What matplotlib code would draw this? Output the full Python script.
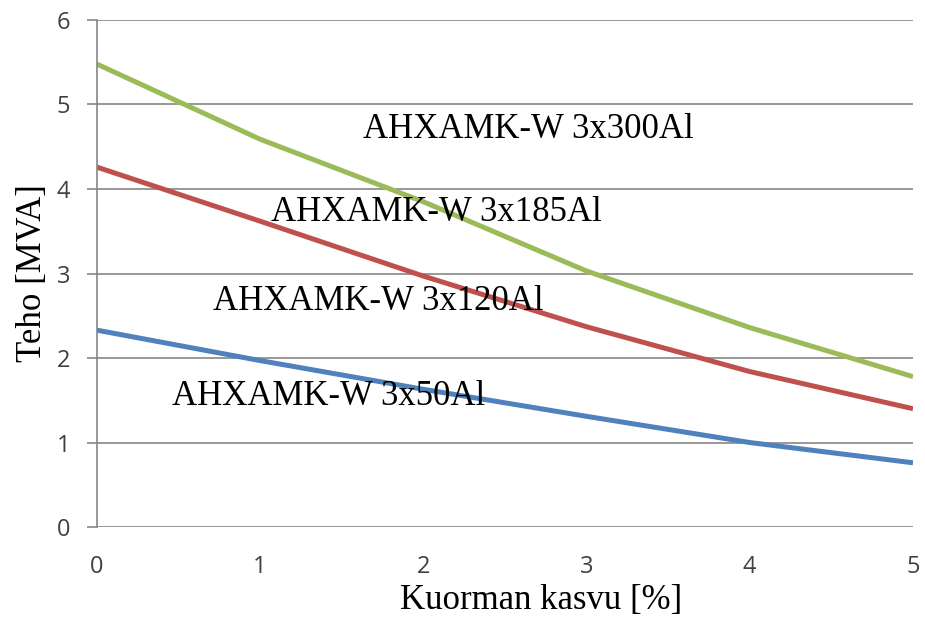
import matplotlib.pyplot as plt

# Load growth (%) and transferable power (MVA) per cable type
kasvu = [0, 1, 2, 3, 4, 5]
teho_300 = [5.48, 4.59, 3.85, 3.03, 2.36, 1.78]
teho_185 = [4.26, 3.62, 2.97, 2.37, 1.84, 1.40]
teho_50 = [2.33, 1.97, 1.63, 1.31, 1.00, 0.76]

kaapelit = ["AHXAMK-W 3x300Al", "AHXAMK-W 3x185Al",
            "AHXAMK-W 3x120Al", "AHXAMK-W 3x50Al"]
# label anchor points (left edge, vertical centre) in data units
label_x = [1.63, 1.07, 0.71, 0.46]
label_y = [4.71, 3.72, 2.67, 1.54]

fig = plt.figure(figsize=(9.25, 6.19), dpi=100)
ax = fig.add_axes([0.1045, 0.1486, 0.8825, 0.8191])

ax.plot(kasvu, teho_300, color="#9BBB59", lw=3.6, solid_capstyle="butt")
ax.plot(kasvu, teho_185, color="#C0504D", lw=3.6, solid_capstyle="butt")
ax.plot(kasvu, teho_50, color="#4F81BD", lw=3.6, solid_capstyle="butt")

for txt, lx, ly in zip(kaapelit, label_x, label_y):
    ax.text(lx, ly, txt, family="Liberation Serif", fontsize=25,
            ha="left", va="center", color="black")

ax.set_xlim(0, 5)
ax.set_ylim(0, 6)
ax.set_xticks(range(6))
ax.set_yticks(range(7))
ax.grid(axis="y", color="#868686", lw=1.2)
ax.set_axisbelow(True)
for s in ["top", "right", "bottom"]:
    ax.spines[s].set_visible(False)
ax.spines["left"].set_color("#868686")
ax.spines["left"].set_linewidth(1.2)
ax.tick_params(axis="y", length=7, width=1.2, color="#868686",
               labelsize=17, labelcolor="#404040", pad=12)
ax.tick_params(axis="x", length=0, labelsize=17, labelcolor="#404040", pad=20)
for lab in ax.get_xticklabels() + ax.get_yticklabels():
    lab.set_family("Open Sans")

ax.set_ylabel("Teho [MVA]", family="Liberation Serif", fontsize=25)
ax.yaxis.set_label_coords(-0.058, 0.5)
ax.set_xlabel("Kuorman kasvu [%]", family="Liberation Serif", fontsize=25)
ax.xaxis.set_label_coords(0.545, -0.112)

fig.savefig("out.png", dpi=100)
